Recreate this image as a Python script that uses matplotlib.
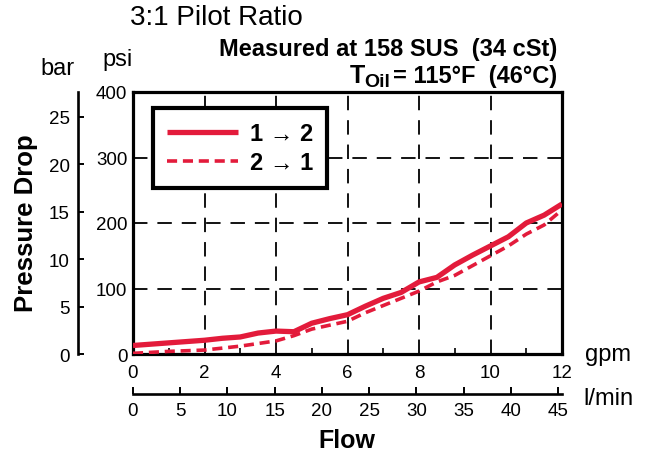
import numpy as np
import matplotlib
matplotlib.use("Agg")
import matplotlib.pyplot as plt
from matplotlib.transforms import IdentityTransform

plt.rcParams['font.family'] = ['Liberation Sans', 'DejaVu Sans']

# pressure drop curves, psi vs gpm
gpm_12 = [0, 1, 2, 2.5, 3, 3.5, 4, 4.5, 5, 5.5, 6, 6.5, 7, 7.5, 8, 8.5, 9, 9.5, 10, 10.5, 11, 11.5, 12]
psi_12 = [13, 17, 21, 24, 26, 32, 35, 34, 47, 54, 60, 73, 85, 94, 110, 117, 136, 151, 165, 179, 200, 212, 229]

gpm_21 = [0, 1, 2, 3, 4, 4.5, 5, 6, 6.5, 7, 8, 8.5, 9, 10, 10.5, 11, 11.5, 12]
psi_21 = [1, 4, 6, 12, 20, 28, 38, 50, 63, 74, 96, 110, 120, 150, 165, 183, 197, 220]

gpm_ticks = [0, 2, 4, 6, 8, 10, 12]
psi_ticks = [0, 100, 200, 300, 400]
bar_ticks = [0, 5, 10, 15, 20, 25]
lpm_ticks = [0, 5, 10, 15, 20, 25, 30, 35, 40, 45]

PSI_PER_BAR = 14.5038
LPM_PER_GPM = 3.785411784
red = "#e31b3b"

W, H = 649, 456
fig = plt.figure(figsize=(W / 100, H / 100), dpi=100)

def fx(px):
    return px / W

def fy(py):
    return 1 - py / H

# ---------------- main axes ----------------
ax = fig.add_axes([fx(133), fy(355), fx(562) - fx(133), fy(93) - fy(355)])
ax.plot(gpm_12, psi_12, color=red, linewidth=3.8, solid_joinstyle='round',
        solid_capstyle='butt', label="1 \u2192 2", zorder=3)
ax.plot(gpm_21, psi_21, color=red, linewidth=2.6, linestyle=(0, (2.8, 1.6)),
        label="2 \u2192 1", zorder=3)
ax.set_xlim(0, 12)
ax.set_ylim(0, 400)
ax.set_xticks(gpm_ticks)
ax.set_yticks(psi_ticks)
ax.set_xticks([1, 3, 5, 7, 9, 11], minor=True)
ax.grid(True, which='major', color='black', linestyle=(0, (8, 5.5)), linewidth=1.3)
ax.tick_params(axis='both', which='major', length=0, labelsize=13.5)
ax.tick_params(axis='x', which='major', pad=7)
ax.tick_params(axis='y', which='major', pad=4)
ax.tick_params(axis='x', which='minor', direction='in', length=4, width=1.2)
for s in ax.spines.values():
    s.set_linewidth(2.3)

leg = ax.legend(loc='upper left', bbox_to_anchor=(0.047, 0.938), frameon=True,
                fancybox=False, edgecolor='black', framealpha=1,
                prop={'size': 17, 'weight': 'bold'}, handlelength=3.0,
                handletextpad=0.5, labelspacing=0.25, borderpad=0.6,
                borderaxespad=0)
leg.get_frame().set_linewidth(3)

# ---------------- bar axis ----------------
axb = fig.add_axes([fx(78), fy(355), 0.001, fy(93) - fy(355)])
axb.set_ylim(0, 400 / PSI_PER_BAR)
axb.set_yticks(bar_ticks)
axb.set_xticks([])
for k in ['top', 'right', 'bottom']:
    axb.spines[k].set_visible(False)
axb.spines['left'].set_linewidth(1.9)
axb.patch.set_visible(False)
axb.tick_params(axis='y', direction='in', length=4.5, width=1.4, pad=6, labelsize=13.5)

# ---------------- l/min axis ----------------
axl = fig.add_axes([fx(133), fy(395), fx(562) - fx(133), 0.001])
axl.set_xlim(0, 12 * LPM_PER_GPM)
axl.set_xticks(lpm_ticks)
axl.set_yticks([])
for k in ['top', 'right', 'left']:
    axl.spines[k].set_visible(False)
axl.spines['bottom'].set_linewidth(1.9)
axl.patch.set_visible(False)
axl.tick_params(axis='x', direction='in', length=5, width=1.4, pad=6, labelsize=13.5)

# ---------------- texts ----------------
fig.text(fx(216), fy(18), "3:1 Pilot Ratio", ha='center', va='center', fontsize=20)
fig.text(fx(557), fy(56), "Measured at 158 SUS  (34 cSt)", ha='right', va='baseline',
         fontsize=17, fontweight='bold')

r = fig.canvas.get_renderer()
t1 = fig.text(557, H - 83, "= 115\u00b0F  (46\u00b0C)", ha='right', va='baseline',
              fontsize=17, fontweight='bold', transform=IdentityTransform())
x0 = t1.get_window_extent(r).x0
t2 = fig.text(x0 - 3, H - 87, "Oil", ha='right', va='baseline',
              fontsize=14, fontweight='bold', transform=IdentityTransform())
x1 = t2.get_window_extent(r).x0
fig.text(x1 + 1, H - 83, "T", ha='right', va='baseline',
         fontsize=18, fontweight='bold', transform=IdentityTransform())

fig.text(fx(58), fy(75), "bar", ha='center', va='baseline', fontsize=17)
fig.text(fx(118), fy(66), "psi", ha='center', va='baseline', fontsize=17)
fig.text(fx(585), fy(361), "gpm", ha='left', va='baseline', fontsize=17)
fig.text(fx(583), fy(405), "l/min", ha='left', va='baseline', fontsize=17)
fig.text(fx(347), fy(441), "Flow", ha='center', va='center', fontsize=18, fontweight='bold')
fig.text(fx(26), fy(223), "Pressure Drop", ha='center', va='center', rotation=90,
         fontsize=18.5, fontweight='bold')

fig.savefig("out.png", dpi=100)
